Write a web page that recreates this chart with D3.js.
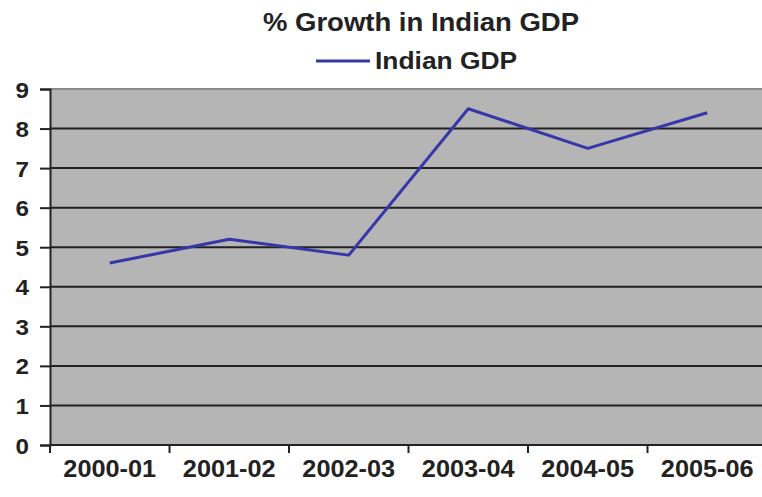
<!DOCTYPE html>
<html>
<head>
<meta charset="utf-8">
<script src="https://cdn.jsdelivr.net/npm/d3@7"></script>
<style>
  body { margin: 0; background: #fff; }
  text { font-family: "Liberation Sans", Arial, sans-serif; font-weight: bold; fill: #222; }
</style>
</head>
<body>
<div id="chart"></div>
<script>
// data
let years = ["2000-01", "2001-02", "2002-03", "2003-04", "2004-05", "2005-06"];
let gdpGrowth = [4.6, 5.2, 4.8, 8.5, 7.5, 8.4];
let yTicks = [0, 1, 2, 3, 4, 5, 6, 7, 8, 9];

let width = 762, height = 497;
let plot = {left: 50, right: 767, top: 89, bottom: 445};
let stretch = 1.1;   // the old picture is a bit wide, so text gets stretched

let svg = d3.select("#chart")
    .append("svg")
    .attr("width", width)
    .attr("height", height);

let x = d3.scaleBand()
    .domain(years)
    .range([plot.left, plot.right])
    .padding(0);

let y = d3.scaleLinear()
    .domain([0, 9])
    .range([plot.bottom, plot.top]);

// plot background
svg.append("rect")
    .attr("x", plot.left)
    .attr("y", plot.top)
    .attr("width", plot.right - plot.left)
    .attr("height", plot.bottom - plot.top)
    .attr("fill", "#b5b5b5");

// gridlines
svg.append("g")
    .selectAll("line")
    .data(yTicks.filter(d => d > 0))
    .enter()
    .append("line")
    .attr("x1", plot.left)
    .attr("x2", plot.right)
    .attr("y1", d => y(d))
    .attr("y2", d => y(d))
    .attr("stroke", d => d == 9 ? "#8a8a8a" : "#222")
    .attr("stroke-width", 2);

// y axis
let yAxis = svg.append("g")
    .attr("transform", `translate(${plot.left}, 0)`)
    .call(d3.axisLeft(y).tickValues(yTicks).tickSize(10).tickPadding(0).tickFormat(d3.format("d")));
yAxis.select(".domain").attr("stroke", "#222").attr("stroke-width", 2);
yAxis.selectAll(".tick line").attr("stroke", "#222").attr("stroke-width", 2);
yAxis.selectAll(".tick text")
    .attr("x", 0)
    .attr("dy", null)
    .attr("y", 0)
    .attr("transform", "translate(-21, 8) scale(" + stretch + ",1)")
    .style("font-size", "22px")
    .style("text-anchor", "end");

// x axis, ticks sit between categories
let xAxis = svg.append("g")
    .attr("transform", `translate(0, ${plot.bottom})`);
xAxis.append("line")
    .attr("x1", plot.left)
    .attr("x2", plot.right)
    .attr("stroke", "#222")
    .attr("stroke-width", 2);
xAxis.selectAll(".xtick")
    .data(years)
    .enter()
    .append("line")
    .attr("class", "xtick")
    .attr("x1", d => x(d))
    .attr("x2", d => x(d))
    .attr("y1", 0)
    .attr("y2", 8)
    .attr("stroke", "#222")
    .attr("stroke-width", 2);
xAxis.selectAll(".xlabel")
    .data(years)
    .enter()
    .append("text")
    .attr("class", "xlabel")
    .attr("transform", d => `translate(${x(d) + x.bandwidth() / 2}, 32) scale(${stretch},1)`)
    .style("text-anchor", "middle")
    .style("font-size", "23px")
    .text(d => d);

// the line
let line = d3.line()
    .x((d, i) => x(years[i]) + x.bandwidth() / 2)
    .y(d => y(d));

svg.append("path")
    .datum(gdpGrowth)
    .attr("d", line)
    .attr("fill", "none")
    .attr("stroke", "#3737aa")
    .attr("stroke-width", 3)
    .attr("stroke-linejoin", "round");

// title
svg.append("text")
    .attr("transform", `translate(421, 31) scale(${stretch},1)`)
    .style("text-anchor", "middle")
    .style("font-size", "25px")
    .text("% Growth in Indian GDP");

// legend
svg.append("line")
    .attr("x1", 316)
    .attr("x2", 370)
    .attr("y1", 61)
    .attr("y2", 61)
    .attr("stroke", "#3737aa")
    .attr("stroke-width", 3);
svg.append("text")
    .attr("transform", `translate(375, 69) scale(${stretch},1)`)
    .style("font-size", "24px")
    .text("Indian GDP");
</script>
</body>
</html>
